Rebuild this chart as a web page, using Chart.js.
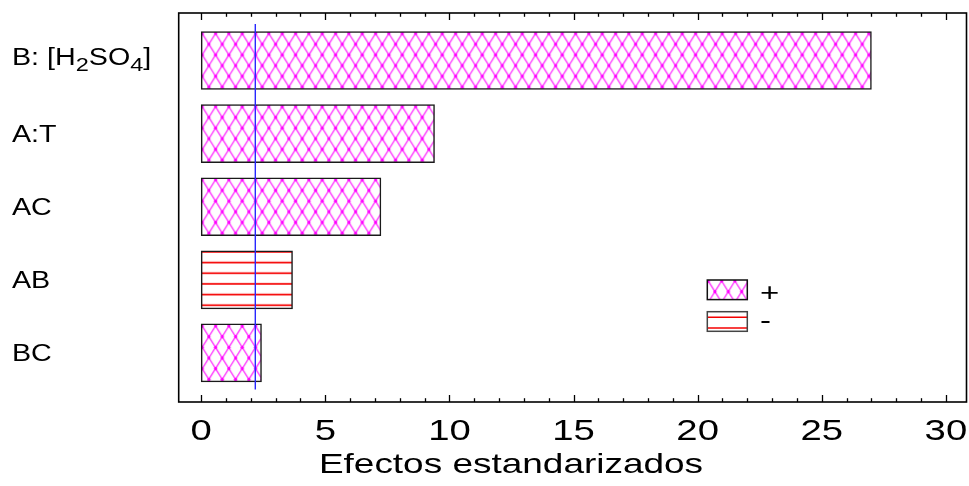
<!DOCTYPE html>
<html>
<head>
<meta charset="utf-8">
<script src="https://cdn.jsdelivr.net/npm/chart.js@4.4.1/dist/chart.umd.min.js"></script>
<style>
  html, body { margin: 0; padding: 0; background: #fff; }
  #wrap { width: 969px; height: 486px; }
</style>
</head>
<body>
<div id="wrap"><canvas id="c" width="969" height="486"></canvas></div>
<script>
// Standardized effects (Pareto), largest first
const factors = ['B: [H₂SO₄]', 'A:T', 'AC', 'AB', 'BC'];
const effects = [27.0, 9.40, 7.24, 3.68, 2.43];
const signs = ['+', '+', '+', '-', '+'];
const criticalValue = 2.18;
const xTickLabels = [0, 5, 10, 15, 20, 25, 30];
const legendLabels = ['+', '-'];
const axisTitle = 'Efectos estandarizados';

const FONT = '"Liberation Sans", Arial, Helvetica, sans-serif';
const STRETCH = 1.32;

// ---- fill patterns ----
function crossTile() {
  const W = 40, H = 64;
  const c = document.createElement('canvas');
  c.width = W; c.height = H;
  const g = c.getContext('2d');
  g.fillStyle = '#fff';
  g.fillRect(0, 0, W, H);
  g.strokeStyle = 'rgba(255,30,255,0.9)';
  g.lineWidth = 1.35;
  for (let k = -3; k <= 6; k++) {
    const x0 = k * W / 3;
    g.beginPath(); g.moveTo(x0, 0); g.lineTo(x0 + W, H); g.stroke();
    g.beginPath(); g.moveTo(x0, 0); g.lineTo(x0 - W, H); g.stroke();
  }
  g.fillStyle = '#ff00ff';
  for (let j = -1; j <= 3; j++) {
    for (let k = -1; k <= 4; k++) {
      const pts = [[k * W / 3, j * H / 3], [k * W / 3 + W / 6, j * H / 3 + H / 6]];
      pts.forEach(([px, py]) => { g.beginPath(); g.arc(px, py, 1.6, 0, Math.PI * 2); g.fill(); });
    }
  }
  return c;
}
function stripeTile() {
  const W = 4, H = 32;
  const c = document.createElement('canvas');
  c.width = W; c.height = H;
  const g = c.getContext('2d');
  g.fillStyle = '#fff';
  g.fillRect(0, 0, W, H);
  g.strokeStyle = 'rgb(245,0,0)';
  g.lineWidth = 1.7;
  [1, 1 + H / 3, 1 + 2 * H / 3].forEach(y => { g.beginPath(); g.moveTo(0, y); g.lineTo(W, y); g.stroke(); });
  return c;
}

const canvas = document.getElementById('c');
const ctx = canvas.getContext('2d');
const CROSS = crossTile();
const STRIPE = stripeTile();
const makePattern = s => ctx.createPattern(s === '+' ? CROSS : STRIPE, 'repeat');
const barPatterns = signs.map(makePattern);

// ---- text helpers (horizontally widened sans) ----
function wideText(g, text, x, y, size, align, sx) {
  g.font = size + 'px ' + FONT;
  const w = g.measureText(text).width * sx;
  let left = x;
  if (align === 'center') left = x - w / 2;
  else if (align === 'right') left = x - w;
  g.save();
  g.translate(left, y);
  g.scale(sx, 1);
  g.textAlign = 'left';
  g.textBaseline = 'alphabetic';
  g.fillText(text, 0, 0);
  g.restore();
  return w;
}
const SUBS = '₀₁₂₃₄₅₆₇₈₉';
function richLabel(g, label, x, yCenter, size, sx) {
  const segs = [];
  for (const ch of label) {
    const sub = SUBS.indexOf(ch) >= 0;
    const c = sub ? String(SUBS.indexOf(ch)) : ch;
    if (segs.length && segs[segs.length - 1].sub === sub) segs[segs.length - 1].t += c;
    else segs.push({ t: c, sub });
  }
  const capH = size * 0.716;
  const hasSub = segs.some(s => s.sub);
  const baseline = hasSub ? yCenter + capH / 2 - 4 : yCenter + capH / 2;
  let cx = x;
  segs.forEach(s => {
    if (s.sub) cx += wideText(g, s.t, cx, baseline + 6.5, size * 0.82, 'left', sx);
    else cx += wideText(g, s.t, cx, baseline, size, 'left', sx);
  });
}

const paretoPlugin = {
  id: 'pareto',
  beforeDatasetsDraw(chart) {
    const meta = chart.getDatasetMeta(0);
    meta.data.forEach((el, i) => {
      const top = el.y - el.height / 2;
      const m = signs[i] === '+'
        ? new DOMMatrix([1, 0, 0, 1, el.base + 1, top + 2])
        : new DOMMatrix([1, 0, 0, 1, 0, top]);
      barPatterns[i].setTransform(m);
    });
  },
  afterDatasetsDraw(chart) {
    const g = chart.ctx;
    const xs = chart.scales.x, ys = chart.scales.y;
    const a = chart.chartArea;

    // critical value line
    g.save();
    g.strokeStyle = '#2828ff';
    g.lineWidth = 1.4;
    const cx = xs.getPixelForValue(criticalValue);
    g.beginPath();
    g.moveTo(cx, ys.getPixelForValue(-0.5));
    g.lineTo(cx, ys.getPixelForValue(factors.length - 0.5));
    g.stroke();

    // frame
    g.strokeStyle = '#000';
    g.lineWidth = 1.6;
    g.strokeRect(a.left, a.top, a.right - a.left, a.bottom - a.top);

    // inward ticks on top and bottom edges
    g.lineWidth = 1.3;
    const last = xTickLabels[xTickLabels.length - 1];
    for (let v = xTickLabels[0]; v <= last; v++) {
      const px = Math.round(xs.getPixelForValue(v)) + 0.5;
      const len = (v % 5 === 0) ? 7 : 3.8;
      g.beginPath(); g.moveTo(px, a.bottom); g.lineTo(px, a.bottom - len); g.stroke();
      g.beginPath(); g.moveTo(px, a.top); g.lineTo(px, a.top + len); g.stroke();
    }

    // tick labels and axis title
    g.fillStyle = '#000';
    xTickLabels.forEach(v => wideText(g, String(v), xs.getPixelForValue(v), 439.5, 29, 'center', STRETCH));
    wideText(g, axisTitle, 511, 473, 28, 'center', STRETCH);

    // factor labels
    factors.forEach((f, i) => richLabel(g, f, 12, ys.getPixelForValue(i), 23.5, 1.22));

    // legend
    const sw = [{ s: '+', y: 280 }, { s: '-', y: 311.7 }];
    sw.forEach((it, k) => {
      const x = 707.3, w = 40, h = 19.6;
      if (it.s === '+') {
        const p = ctx.createPattern(CROSS, 'repeat');
        p.setTransform(new DOMMatrix([1, 0, 0, 1, x + 1, it.y + 1]));
        g.fillStyle = p;
        g.fillRect(x, it.y, w, h);
      } else {
        g.fillStyle = '#fff';
        g.fillRect(x, it.y, w, h);
        g.strokeStyle = 'rgb(245,0,0)';
        g.lineWidth = 1.6;
        [5.6, 16.3].forEach(dy => { g.beginPath(); g.moveTo(x, it.y + dy); g.lineTo(x + w, it.y + dy); g.stroke(); });
      }
      g.strokeStyle = it.s === '+' ? '#111' : '#444';
      g.lineWidth = 1.5;
      g.strokeRect(x, it.y, w, h);
      g.fillStyle = '#000';
      const base = it.s === '+' ? 300.5 : 329;
      wideText(g, legendLabels[k], 760, base, 25, 'left', STRETCH);
    });
    g.restore();
  }
};

new Chart(ctx, {
  type: 'bar',
  data: {
    datasets: [{
      data: effects.map((v, i) => ({ x: v, y: i })),
      backgroundColor: barPatterns,
      borderColor: '#1a1a1a',
      borderWidth: 1.5,
      borderSkipped: false,
      barThickness: 58
    }]
  },
  options: {
    indexAxis: 'y',
    responsive: false,
    animation: false,
    devicePixelRatio: 1,
    layout: { padding: { left: 178.7, top: 13, right: 2.5, bottom: 84 } },
    scales: {
      x: { type: 'linear', min: -0.906, max: 30.83, offset: false, display: false },
      y: { type: 'linear', min: -0.65, max: 4.671, reverse: true, offset: false, display: false }
    },
    plugins: { legend: { display: false }, tooltip: { enabled: false } }
  },
  plugins: [paretoPlugin]
});
</script>
</body>
</html>
